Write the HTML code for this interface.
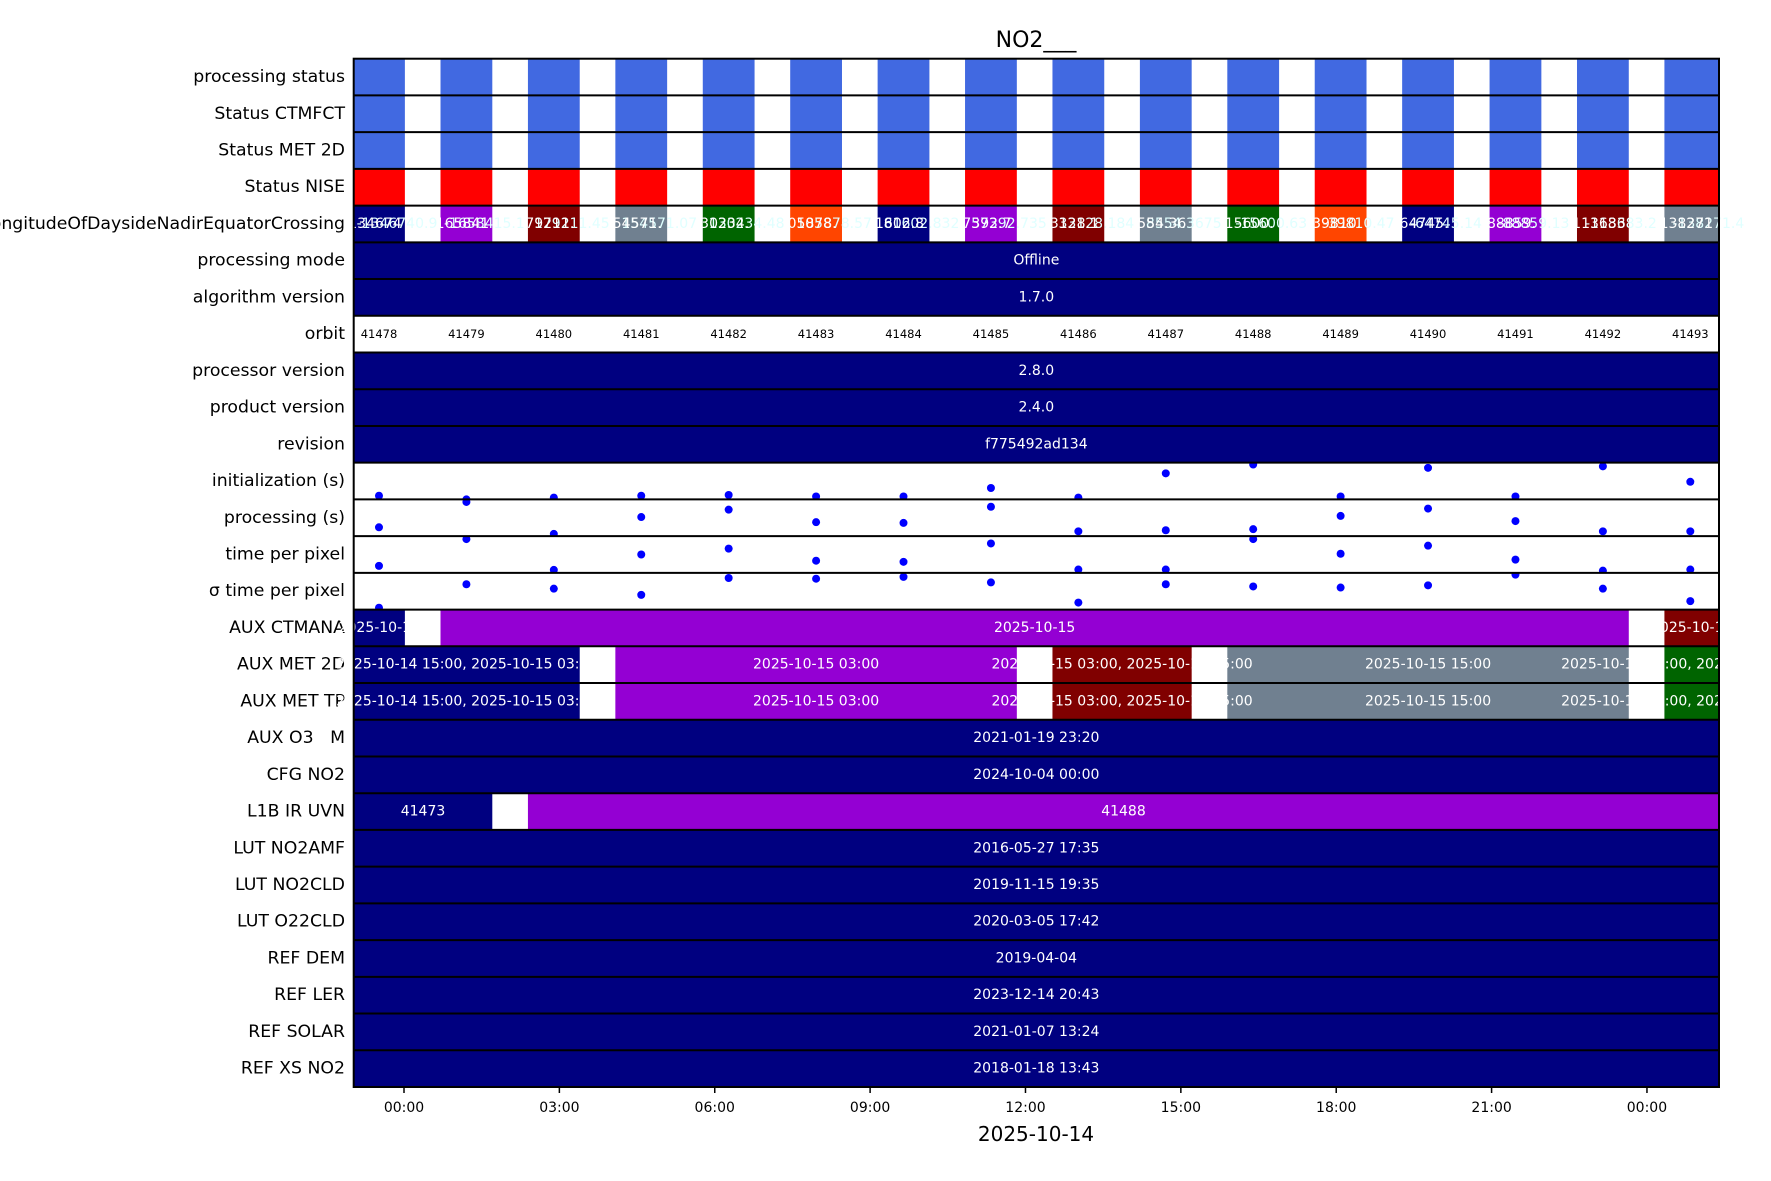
<!DOCTYPE html>
<html><head><meta charset="utf-8"><style>
html,body{margin:0;padding:0;background:#fff;}
svg{display:block;font-family:"DejaVu Sans","Liberation Sans",sans-serif;}
text{white-space:pre;}
</style></head>
<body>
<svg id="chart" width="1771" height="1181" viewBox="0 0 1771 1181" xmlns="http://www.w3.org/2000/svg">
<text x="1036" y="47" font-size="22" text-anchor="middle">NO2___</text>
<g id="plot"></g>
<text x="1036" y="1141" font-size="20" text-anchor="middle">2025-10-14</text>
</svg>
<script>
// ---- data ----
const rowLabels = ["processing status","Status CTMFCT","Status MET 2D","Status NISE","LongitudeOfDaysideNadirEquatorCrossing","processing mode","algorithm version","orbit","processor version","product version","revision","initialization (s)","processing (s)","time per pixel","\u03C3 time per pixel","AUX CTMANA","AUX MET 2D","AUX MET TP","AUX O3   M","CFG NO2","L1B IR UVN","LUT NO2AMF","LUT NO2CLD","LUT O22CLD","REF DEM","REF LER","REF SOLAR","REF XS NO2"];
const orbitStart = [-0.983,0.705,2.393,4.081,5.769,7.457,9.145,10.833,12.521,14.209,15.897,17.585,19.273,20.961,22.649,24.337];
const orbitDuration = [1.0,1.0,1.0,1.0,1.0,1.0,1.0,1.0,1.0,1.0,1.0,1.0,1.0,1.0,1.0,1.06];
const orbitNumbers = [41478,41479,41480,41481,41482,41483,41484,41485,41486,41487,41488,41489,41490,41491,41492,41493];
const longitudeText = ["-1346740.9","-1658415.1","179211.45","154571.07","130234.48","105878.57","81602.832","57392.735","33128.184","8554.3675","-15600.63","-39810.47","-64745.14","-88859.13","-113683.2","-138271.4"];
const longitudeColorIdx = [0,1,2,3,4,5,0,1,2,3,4,5,0,1,2,3];
const initValues = [0.10,0.0,0.05,0.10,0.12,0.08,0.08,0.31,0.05,0.71,0.95,0.08,0.86,0.08,0.90,0.48];
const procValues = [0.24,0.93,0.06,0.52,0.72,0.38,0.36,0.80,0.13,0.16,0.19,0.55,0.75,0.41,0.13,0.13];
const tppValues = [0.19,0.92,0.08,0.50,0.66,0.33,0.30,0.80,0.09,0.09,0.92,0.52,0.74,0.36,0.06,0.09];
const sigmaValues = [0.05,0.69,0.57,0.40,0.86,0.84,0.89,0.74,0.19,0.69,0.63,0.60,0.66,0.95,0.57,0.23];
const fullRows = {5:"Offline",6:"1.7.0",8:"2.8.0",9:"2.4.0",10:"f775492ad134",18:"2021-01-19 23:20",19:"2024-10-04 00:00",21:"2016-05-27 17:35",22:"2019-11-15 19:35",23:"2020-03-05 17:42",24:"2019-04-04",25:"2023-12-14 20:43",26:"2021-01-07 13:24",27:"2018-01-18 13:43"};
const auxCtmanaSegs = [[0,0,0,"2025-10-14"],[1,14,1,"2025-10-15"],[15,15,2,"2025-10-16"]];
const auxMetSegs = [[0,2,0,"2025-10-14 15:00, 2025-10-15 03:00"],[3,7,1,"2025-10-15 03:00"],[8,9,2,"2025-10-15 03:00, 2025-10-15 15:00"],[10,14,3,"2025-10-15 15:00"],[15,15,4,"2025-10-15 15:00, 2025-10-16 03:00"]];
const l1bSegs = [[0,1,0,"41473"],[2,15,1,"41488"]];
const xTickHours = [0,3,6,9,12,15,18,21,24];
const xTickLabels = ["00:00","03:00","06:00","09:00","12:00","15:00","18:00","21:00","00:00"];
const palette = ["#000080","#9400d3","#800000","#708090","#006400","#ff4500"];

// ---- layout ----
const L=353.7, R=1719, T=58.7, B=1087, NR=28, RH=(B-T)/NR;
const x = h => 404 + h*51.79;
const rowY = i => T + i*RH;
const NS="http://www.w3.org/2000/svg";
const g=document.getElementById('plot');
function mk(tag, attrs, parent){const e=document.createElementNS(NS,tag);for(const k in attrs)e.setAttribute(k,attrs[k]);(parent||g).appendChild(e);return e;}
const defs=mk('defs',{});
for(let i=0;i<NR;i++){const cp=mk('clipPath',{id:'c'+i},defs);mk('rect',{x:L,y:rowY(i),width:R-L,height:RH},cp);}

function txt(s,xx,yy,size,fill,anchor){const t=mk('text',{x:xx,y:yy,'font-size':size,fill:fill,'text-anchor':anchor||'middle','dominant-baseline':'central'});t.textContent=s;return t;}

rowLabels.forEach((lab,i)=>{
  const t=txt(lab,345,rowY(i)+RH/2,17.3,'#000','end');
  
  
});

const statusColors=["#4169e1","#4169e1","#4169e1","#ff0000"];
for(let r=0;r<4;r++){
  const gr=mk('g',{'clip-path':'url(#c'+r+')'});
  orbitStart.forEach((s,k)=>{
    const rc=mk('rect',{x:x(s),y:rowY(r),width:x(s+orbitDuration[k])-x(s),height:RH,fill:statusColors[r]},gr);
    
    
  });
}
{
  const gr=mk('g',{'clip-path':'url(#c4)'});
  orbitStart.forEach((s,k)=>{
    const rc=mk('rect',{x:x(s),y:rowY(4),width:x(s+orbitDuration[k])-x(s),height:RH,fill:palette[longitudeColorIdx[k]]},gr);
    
    
  });
  orbitStart.forEach((s,k)=>{
    const cx=x(s+0.5);
    const t1=txt(longitudeText[k],cx+18,rowY(4)+RH/2,14,'#e0ffff');
    
    
    const t=txt(longitudeText[k].slice(1,7),cx-4,rowY(4)+RH/2,14,'#fff');
    
    
  });
}
for(const r in fullRows){
  const rc=mk('rect',{x:L,y:rowY(+r),width:R-L,height:RH,fill:'#000080'});
  
  
  const t=txt(fullRows[r],(L+R)/2,rowY(+r)+RH/2,14,'#fff');
  
  
}
orbitNumbers.forEach((n,k)=>{
  const t=txt(String(n),x(orbitStart[k]+0.5),rowY(7)+RH/2,11.5,'#000');
  
  
});
[[11,initValues],[12,procValues],[13,tppValues],[14,sigmaValues]].forEach(([r,vals])=>{
  const gr=mk('g',{'clip-path':'url(#c'+r+')'});
  vals.forEach((v,k)=>{
    const c=mk('circle',{cx:x(orbitStart[k]+0.5),cy:rowY(r)+RH-v*RH,r:4,fill:'#0000ff'},gr);
    
    
  });
});
function segRow(r,segs){
  const gr=mk('g',{'clip-path':'url(#c'+r+')'});
  segs.forEach(sg=>{
    const s=orbitStart[sg[0]], e=orbitStart[sg[1]]+orbitDuration[sg[1]];
    const rc=mk('rect',{x:x(s),y:rowY(r),width:x(e)-x(s),height:RH,fill:palette[sg[2]]},gr);
    
    
  });
  segs.forEach(sg=>{
    const s=Math.max(x(orbitStart[sg[0]]),L), e=Math.min(x(orbitStart[sg[1]]+orbitDuration[sg[1]]),R);
    const t=txt(sg[3],(s+e)/2,rowY(r)+RH/2,14,'#fff');
    
    
  });
}
segRow(15,auxCtmanaSegs);
segRow(16,auxMetSegs);
segRow(17,auxMetSegs);
segRow(20,l1bSegs);

for(let i=1;i<NR;i++){mk('line',{x1:L,x2:R,y1:rowY(i),y2:rowY(i),stroke:'#000','stroke-width':2});}
const fr=mk('rect',{x:L,y:T,width:R-L,height:B-T,fill:'none',stroke:'#000','stroke-width':2});


xTickHours.forEach((h,i)=>{
  mk('line',{x1:x(h),x2:x(h),y1:B,y2:B+6,stroke:'#000','stroke-width':1.5});
  const t=txt(xTickLabels[i],x(h),B+21,14,'#000');
  
  
});
</script>
</body></html>
